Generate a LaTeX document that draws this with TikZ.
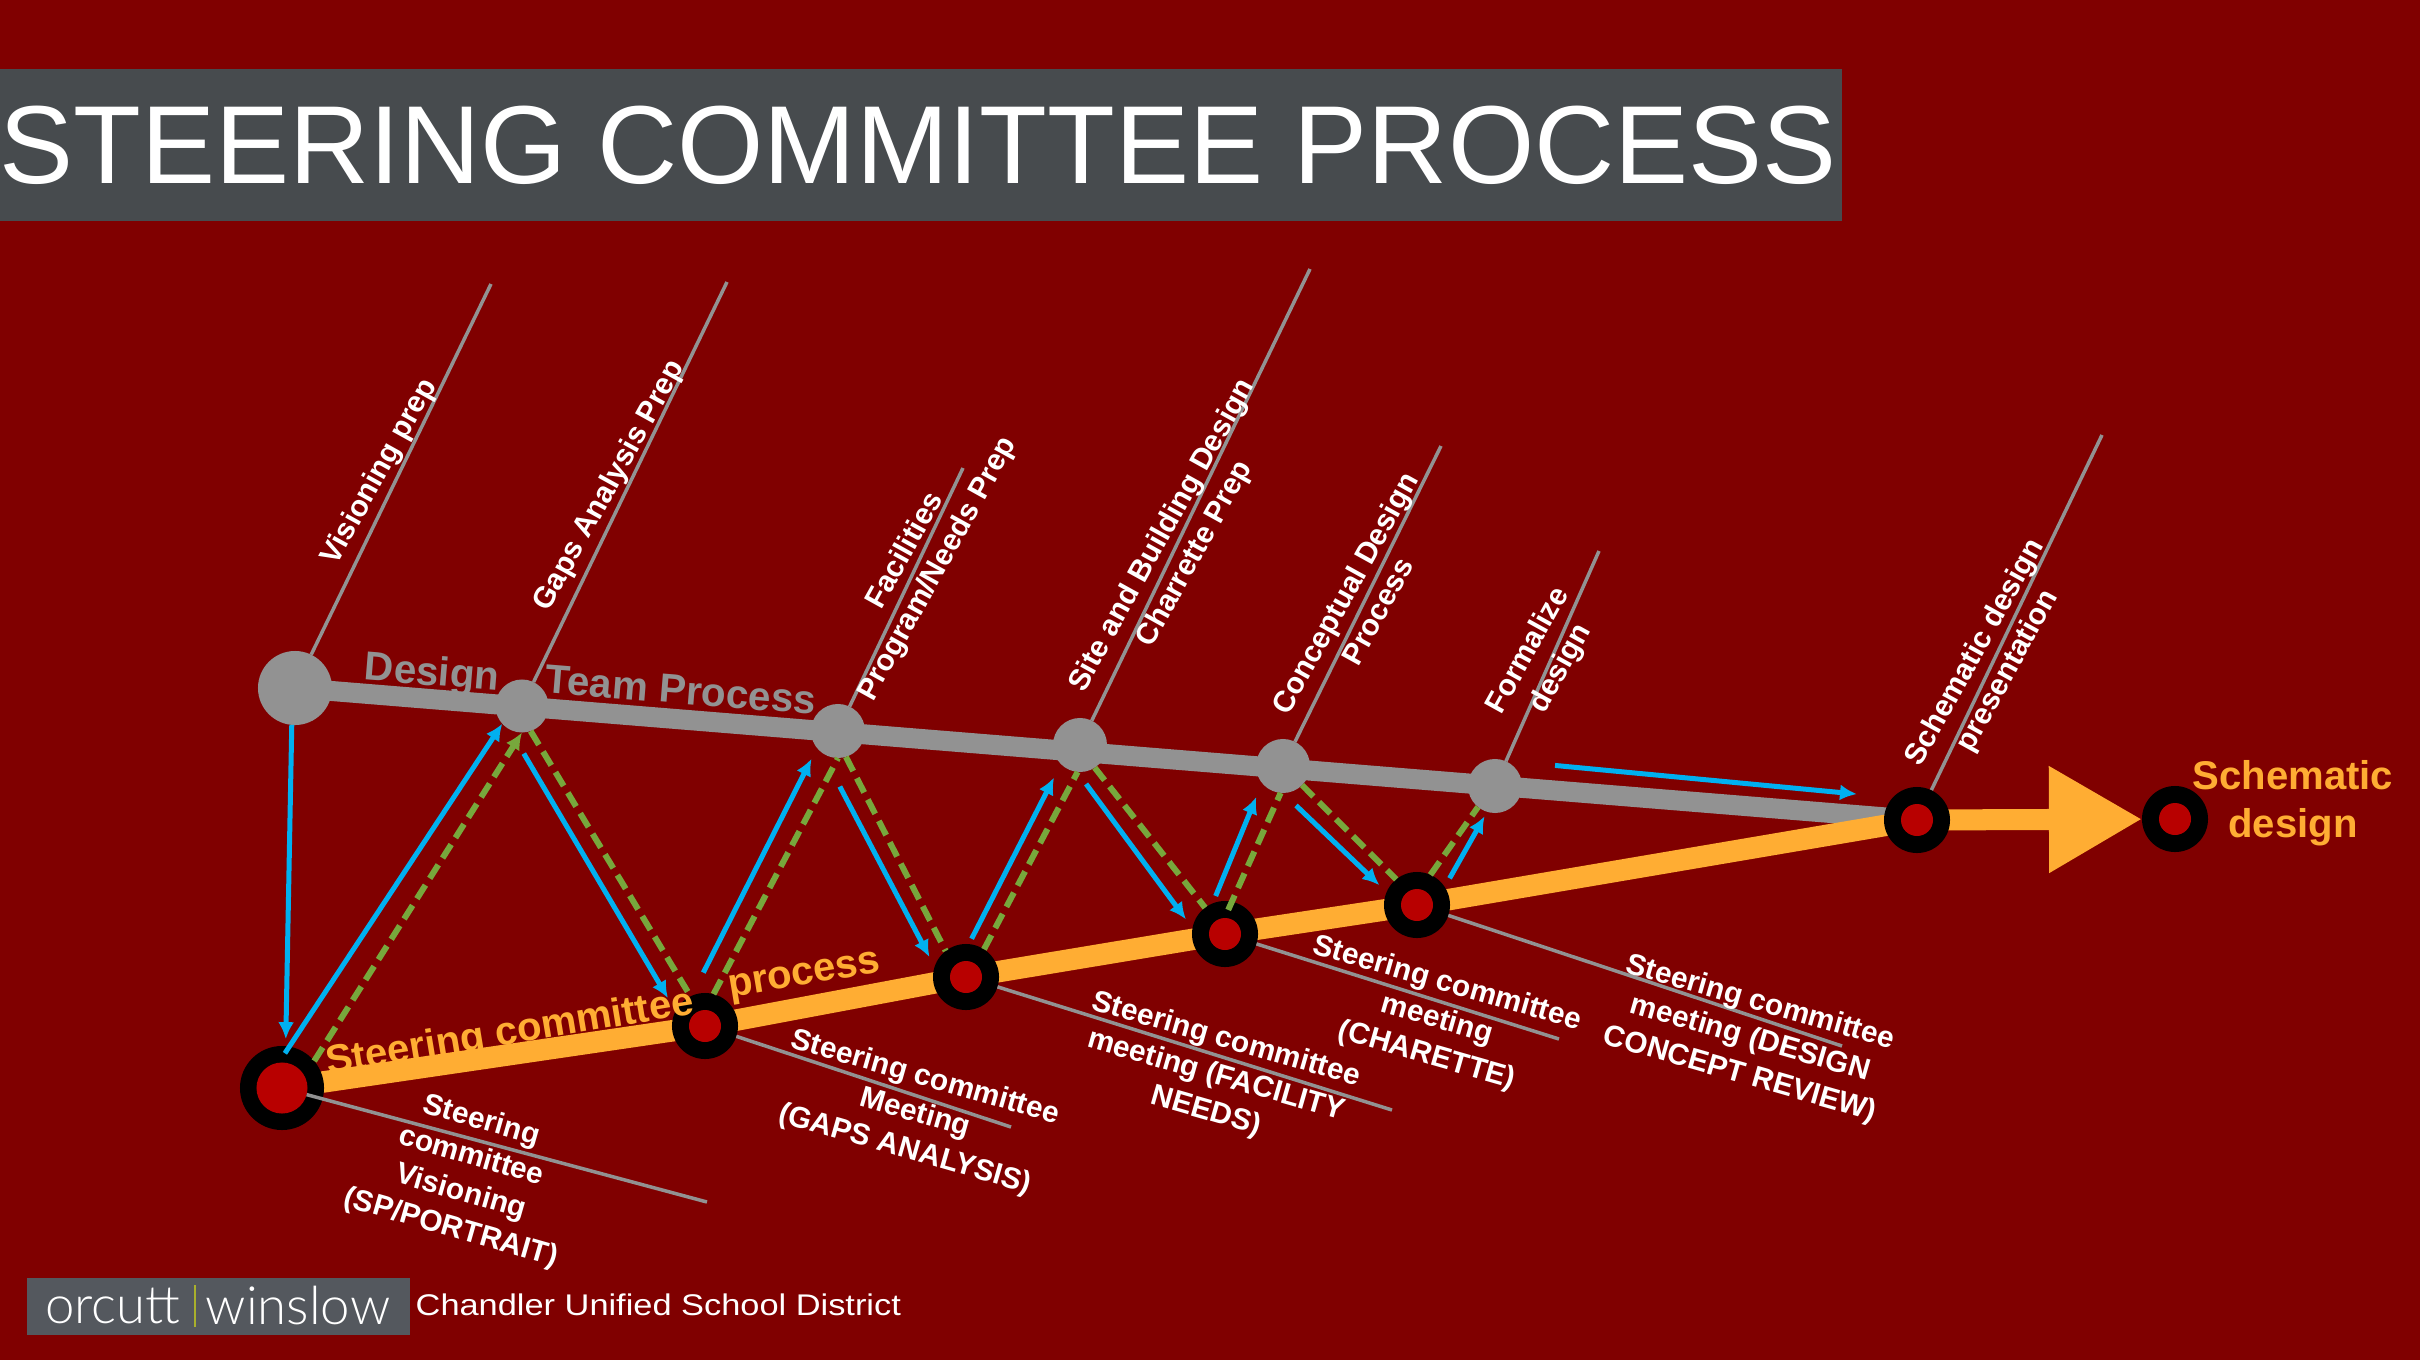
\documentclass[tikz,border=0pt]{standalone}
\usepackage{fontspec}
\usepackage{xcolor}
\usetikzlibrary{arrows.meta,positioning,calc,backgrounds}
\setmainfont{Liberation Sans}
\newfontfamily\footfont[FakeStretch=1.15]{Liberation Sans}
\newfontfamily\logofont{Lato Light}
\definecolor{bgmaroon}{HTML}{800000}
\definecolor{barslate}{HTML}{474B4E}
\definecolor{logoslate}{HTML}{54585E}
\definecolor{logolime}{HTML}{A9B02C}
\definecolor{teamgray}{HTML}{929292}
\definecolor{comorange}{HTML}{FFAD33}
\definecolor{flowblue}{HTML}{00B0F0}
\definecolor{flowgreen}{HTML}{77A83C}
\definecolor{corered}{HTML}{B80000}
\tikzset{
  teamdot/.style={circle,fill=teamgray,inner sep=0pt,outer sep=0pt,minimum size=#1},
  comring/.style={circle,fill=black,inner sep=0pt,outer sep=0pt,minimum size=#1},
  comcore/.style={circle,fill=corered,inner sep=0pt,outer sep=0pt,minimum size=#1},
  leader/.style={draw=teamgray,line width=0.035cm},
  teambar/.style={draw=teamgray,line width=0.2cm},
  combar/.style={draw=comorange,line width=0.215cm},
  bluearrow/.style={draw=flowblue,line width=0.05cm,-{Latex[length=0.17cm,width=0.16cm]}},
  greendash/.style={draw=flowgreen,line width=0.06cm,dash pattern=on 0.16cm off 0.08cm},
  notelabel/.style={text=white,align=center,inner sep=0pt,font=\bfseries\fontsize{8.5}{10.6}\selectfont},
  teamlabel/.style={text=teamgray,inner sep=0pt,rotate=-4.6,font=\bfseries\fontsize{11.5}{13}\selectfont},
  comlabel/.style={text=comorange,inner sep=0pt,rotate=9.5,font=\bfseries\fontsize{11.4}{14}\selectfont}
}
\begin{document}
\begin{tikzpicture}[x=0.01cm,y=-0.01cm,>=Latex]
  \useasboundingbox (0,0) rectangle (2420,1360);
  \node[teamdot=0.74cm] (dt0) at (295,688) {};
  \node[teamdot=0.53cm] (dt1) at (522,706) {};
  \node[teamdot=0.54cm] (dt2) at (838,731) {};
  \node[teamdot=0.54cm] (dt3) at (1080,745) {};
  \node[teamdot=0.54cm] (dt4) at (1283,766) {};
  \node[teamdot=0.54cm] (dt5) at (1495,786) {};

  \node[comring=0.84cm] (sc0) at (282,1088) {};
  \node[comring=0.66cm] (sc1) at (705,1026) {};
  \node[comring=0.66cm] (sc2) at (966,977) {};
  \node[comring=0.66cm] (sc3) at (1225,934) {};
  \node[comring=0.66cm] (sc4) at (1417,905) {};
  \node[comring=0.66cm] (sc5) at (1917,820) {};
  \node[comring=0.66cm] (sc6) at (2175,819) {};
  \node[comcore=0.51cm] (core0) at (sc0) {};
  \node[comcore=0.32cm] (core1) at (sc1) {};
  \node[comcore=0.32cm] (core2) at (sc2) {};
  \node[comcore=0.32cm] (core3) at (sc3) {};
  \node[comcore=0.32cm] (core4) at (sc4) {};
  \node[comcore=0.32cm] (core5) at (sc5) {};
  \node[comcore=0.32cm] (core6) at (sc6) {};

  \coordinate (up0) at (491,284);
  \coordinate (up1) at (727,282);
  \coordinate (up2) at (963,468);
  \coordinate (up3) at (1310,269);
  \coordinate (up4) at (1441,446);
  \coordinate (up5) at (1599,551);
  \coordinate (up6) at (2102,435);
  \coordinate (down0) at (707,1202);
  \coordinate (down1) at (1011,1127);
  \coordinate (down2) at (1392,1110);
  \coordinate (down3) at (1559,1039);
  \coordinate (down4) at (1842,1046);

  \begin{scope}[on background layer]
    \fill[bgmaroon] (-5,-5) rectangle (2425,1365);
    \draw[leader] (dt0) -- (up0);
    \draw[leader] (dt1) -- (up1);
    \draw[leader] (dt2) -- (up2);
    \draw[leader] (dt3) -- (up3);
    \draw[leader] (dt4) -- (up4);
    \draw[leader] (dt5) -- (up5);
    \draw[leader] (sc5) -- (up6);
    \draw[teambar] (dt0.center) -- (sc5.center);
    \draw[combar] (sc0.center) -- (sc1.center) -- (sc2.center) -- (sc3.center) -- (sc4.center) -- (sc5.center);
    \draw[draw=comorange,line width=0.21cm,-{Triangle[length=0.93cm,width=1.01cm]}] (sc5.center) -- (sc6);
  \end{scope}

  \draw[leader] (core0) -- (down0);
  \draw[leader] (sc1) -- (down1);
  \draw[leader] (sc2) -- (down2);
  \draw[leader] (sc3) -- (down3);
  \draw[leader] (sc4) -- (down4);

  \draw[greendash,-{Latex[length=0.17cm,width=0.16cm]}] (sc0.40) -- (dt1.south);
  \draw[greendash] (dt1.-71) -- (sc1.116);
  \draw[greendash] (sc1.75) -- (dt2.south);
  \draw[greendash] (dt2.-73) -- (sc2.128);
  \draw[greendash] (sc2.57) -- (dt3.265);
  \draw[greendash] (dt3.-57) -- (sc3.127);
  \draw[greendash,shorten <=-0.09cm] (sc3.78) -- (dt4.265);
  \draw[greendash] (dt4.-45) -- (sc4.129);
  \draw[greendash] (sc4.66) -- (dt5.231);

  \draw[bluearrow,shorten >=0.07cm] (dt0.265) -- (sc0.85);
  \draw[bluearrow,shorten <=-0.08cm] (sc0.80) -- (dt1.222);
  \draw[bluearrow,shorten <=0.28cm,shorten >=0.15cm] (dt1.242) -- (sc1.153);
  \draw[bluearrow,shorten <=0.26cm,shorten >=0.12cm] (sc1.114) -- (dt2.219);
  \draw[bluearrow,shorten <=0.38cm,shorten >=0.11cm] (dt2.234) -- (sc2.162);
  \draw[bluearrow,shorten <=0.06cm,shorten >=0.15cm] (sc2.85) -- (dt3.225);
  \draw[bluearrow,shorten <=0.15cm,shorten >=0.11cm] (dt3.264) -- (sc3.170);
  \draw[bluearrow,shorten <=0.08cm,shorten >=0.15cm] (sc3.112) -- (dt4.219);
  \draw[bluearrow,shorten <=0.18cm,shorten >=0.10cm] (dt4.south) -- (sc4.157);
  \draw[bluearrow,shorten <=0.10cm,shorten >=0.05cm] (sc4.33) -- (dt5.253);
  \draw[bluearrow,shorten <=0.51cm,shorten >=0.36cm] (dt5.70) -- (sc5.137);

  \node[fill=barslate,minimum width=18.47cm,minimum height=1.52cm,inner sep=0pt,text=white,font=\fontsize{31.55}{36}\selectfont] (titlebar) at (918,145) {\raisebox{-0.06cm}{STEERING COMMITTEE PROCESS}};

  \node[notelabel,rotate=61] (noteup0) at (380,472) {Visioning prep};
  \node[notelabel,rotate=61] (noteup1) at (610,486) {Gaps Analysis Prep};
  \node[notelabel,rotate=61] (noteup2) at (922,560) {Facilities\\Program/Needs Prep};
  \node[notelabel,rotate=61] (noteup3) at (1179,545) {Site and Building Design\\Charrette Prep};
  \node[notelabel,rotate=61] (noteup4) at (1361,602) {Conceptual Design\\Process};
  \node[notelabel,rotate=61] (noteup5) at (1545,660) {Formalize\\design};
  \node[notelabel,rotate=61] (noteup6) at (1992,662) {Schematic design\\presentation};

  \node[notelabel,rotate=-16] (notedown0) at (466,1175) {Steering\\committee\\Visioning\\(SP/PORTRAIT)};
  \node[notelabel,rotate=-16] (notedown1) at (915,1114) {Steering committee\\Meeting\\(GAPS ANALYSIS)};
  \node[notelabel,rotate=-16] (notedown2) at (1216,1076) {Steering committee\\meeting (FACILITY\\NEEDS)};
  \node[notelabel,rotate=-16] (notedown3) at (1437,1020) {Steering committee\\meeting\\(CHARETTE)};
  \node[notelabel,rotate=-16] (notedown4) at (1750,1039) {Steering committee\\meeting (DESIGN\\CONCEPT REVIEW)};

  \node[teamlabel] (teamname0) at (432,675) {Design};
  \node[teamlabel] (teamname1) at (681,690) {Team Process};
  \node[comlabel] (comname0) at (510,1034) {Steering committee};
  \node[comlabel] (comname1) at (805,978) {process};
  \node[text=comorange,align=center,inner sep=0pt,font=\bfseries\fontsize{11.4}{13.6}\selectfont] (endname) at (2293,803) {Schematic\\design};

  \node[fill=logoslate,minimum width=3.83cm,minimum height=0.57cm,inner sep=0pt] (logobox) at (218.5,1306.5) {};
  \node[fill=logolime,minimum width=0.025cm,minimum height=0.42cm,inner sep=0pt] (logobar) at (195,1306) {};
  \node[left=0.12cm of logobar,text=white,inner sep=0pt,font=\logofont\fontsize{15}{17}\selectfont] (logoleft) {orcutt};
  \node[right=0.08cm of logobar,text=white,inner sep=0pt,font=\logofont\fontsize{15}{17}\selectfont] (logoright) {winslow};
  \node[anchor=west,text=white,inner sep=0pt,font=\footfont\fontsize{8.5}{10}\selectfont] (district) at (415,1305) {Chandler Unified School District};
\end{tikzpicture}
\end{document}
